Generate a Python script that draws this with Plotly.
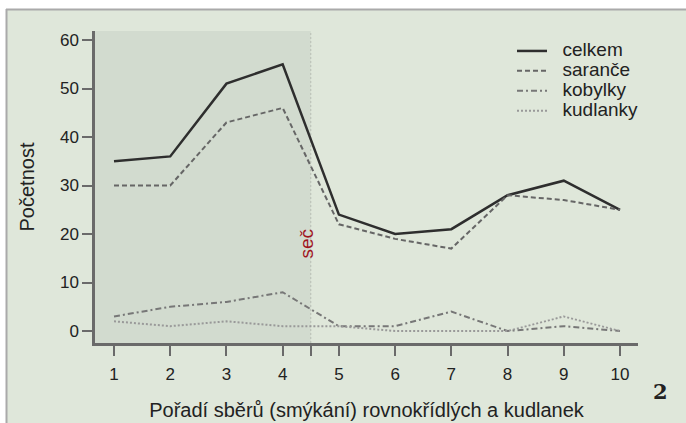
import plotly.graph_objects as go

poradi = [1, 2, 3, 4, 5, 6, 7, 8, 9, 10]
celkem = [35, 36, 51, 55, 24, 20, 21, 28, 31, 25]
sarance = [30, 30, 43, 46, 22, 19, 17, 28, 27, 25]
kobylky = [3, 5, 6, 8, 1, 1, 4, 0, 1, 0]
kudlanky = [2, 1, 2, 1, 1, 0, 0, 0, 3, 0]
nazvy = ["celkem", "saranče", "kobylky", "kudlanky"]
sec_x = 4.5

W, H = 686, 423
L, R, T, B = 95, 638, 31, 343
def px(x):
    return (x - L) / (R - L)
def py(y):
    return (B - y) / (B - T)

def leg(n):
    return '<span style="font-size:19px">\u00a0\u00a0' + n + '</span>'

fig = go.Figure()
fig.add_trace(go.Scatter(x=poradi, y=celkem, name=leg(nazvy[0]), mode="lines",
                         line=dict(color="#2e2e2e", width=2.5)))
fig.add_trace(go.Scatter(x=poradi, y=sarance, name=leg(nazvy[1]), mode="lines",
                         line=dict(color="#666666", width=2, dash="5px,3px")))
fig.add_trace(go.Scatter(x=poradi, y=kobylky, name=leg(nazvy[2]), mode="lines",
                         line=dict(color="#777777", width=2, dash="6px,3px,2px,3px")))
fig.add_trace(go.Scatter(x=poradi, y=kudlanky, name=leg(nazvy[3]), mode="lines",
                         line=dict(color="#999999", width=2, dash="2px,2px")))

shapes = [
    dict(type="rect", xref="paper", yref="paper", x0=px(6), x1=px(W + 5), y0=py(9), y1=py(H + 5),
         fillcolor="#dfe7da", line=dict(width=0), layer="below"),
    dict(type="line", xref="paper", yref="paper", x0=px(6), x1=px(W + 5), y0=py(9.5), y1=py(9.5),
         line=dict(color="#aaaaaa", width=2), layer="below"),
    dict(type="line", xref="paper", yref="paper", x0=px(6.5), x1=px(6.5), y0=py(9), y1=py(H + 5),
         line=dict(color="#aaaaaa", width=2), layer="below"),
    dict(type="rect", xref="x", yref="paper", x0=0.662, x1=sec_x, y0=0, y1=1,
         fillcolor="#d2dbcf", line=dict(width=0), layer="below"),
    dict(type="line", xref="x", yref="paper", x0=sec_x, x1=sec_x, y0=0, y1=1,
         line=dict(color="#b8beb5", width=1, dash="2px,2px"), layer="below"),
]

fig.update_layout(
    width=W, height=H,
    margin=dict(l=L, r=W - R, t=T, b=H - B, autoexpand=False),
    paper_bgcolor="white", plot_bgcolor="rgba(0,0,0,0)",
    font=dict(family="Liberation Sans, Arial, sans-serif", size=17, color="#222222"),
    shapes=shapes,
    showlegend=True,
    legend=dict(x=px(512), y=py(36), xanchor="left", yanchor="top",
                bgcolor="rgba(0,0,0,0)", font=dict(size=13, color="#222222"),
                tracegroupgap=0, itemwidth=30),
    annotations=[
        dict(x=sec_x, y=18, xref="x", yref="y", text="seč", textangle=-90,
             showarrow=False, xshift=-4, font=dict(size=19, color="#a0141e")),
        dict(x=px(660), y=py(392), xref="paper", yref="paper", text="<b>2</b>",
             xanchor="center", yanchor="middle",
             showarrow=False, font=dict(family="DejaVu Serif, Liberation Serif, serif", size=21, color="#222222")),
    ],
)
fig.update_xaxes(range=[0.662, 10.32], tickvals=[1, 2, 3, 4, sec_x, 5, 6, 7, 8, 9, 10],
                 ticktext=["1", "2", "3", "4", "", "5", "6", "7", "8", "9", "10"],
                 showline=True, linecolor="#6a6a6a", linewidth=2.5,
                 ticks="outside", ticklen=10, tickwidth=2, tickcolor="#6a6a6a",
                 ticklabelstandoff=4,
                 showgrid=False, zeroline=False, automargin=False,
                 title=dict(text="Pořadí sběrů (smýkání) rovnokřídlých a kudlanek", standoff=20))
fig.update_yaxes(range=[-2.47, 61.86], tickvals=[0, 10, 20, 30, 40, 50, 60],
                 showline=True, linecolor="#6a6a6a", linewidth=2.5,
                 ticks="outside", ticklen=10, tickwidth=2, tickcolor="#6a6a6a",
                 showgrid=False, zeroline=False, automargin=False,
                 title=dict(text="Početnost", standoff=20))

fig.write_html("out.html", config={"displayModeBar": False},
               post_script="document.body.style.margin='0';")
